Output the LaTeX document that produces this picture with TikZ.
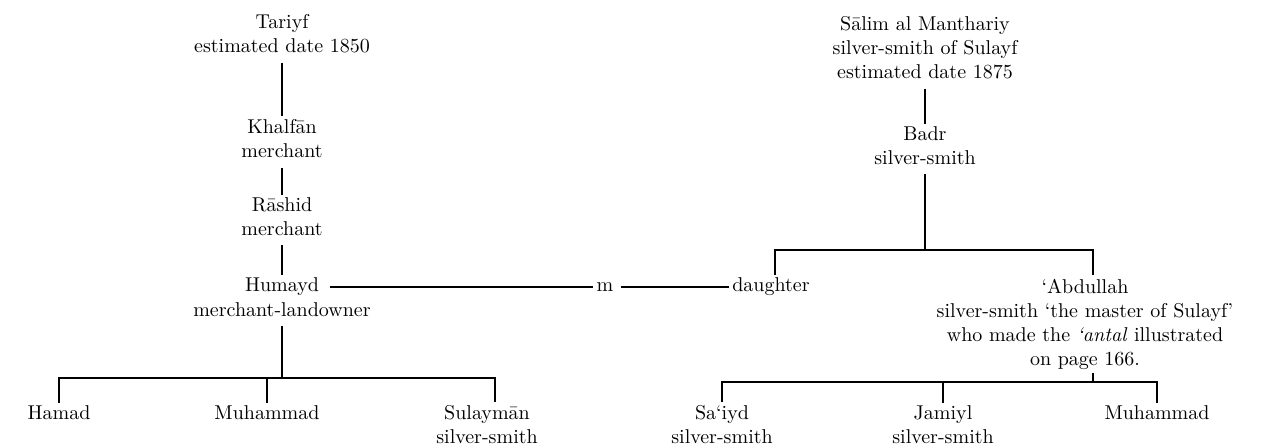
\documentclass[tikz,border=0pt]{standalone}
\usepackage{tikz}
\usetikzlibrary{positioning}

\tikzset{
  person/.style={align=center, inner sep=1.5pt, font=\fontsize{10}{12}\selectfont},
  kin/.style={line width=0.6pt},
  descent/.style={kin, shorten <=3pt},
}

\begin{document}
\begin{tikzpicture}[x=0.5pt, y=-0.5pt]
  \useasboundingbox (0,0) rectangle (1263,448);

  % --- Tariyf line ---
  \node[person] (tariyf) at (282,34) {Tariyf\\estimated date 1850};
  \node[person] (khalfan) at (282,139) {Khalf\={a}n\\merchant};
  \node[person] (rashid) at (282,217) {R\={a}shid\\merchant};
  \node[person] (humayd) at (282,287) {Humayd};
  \node[person] (humaydjob) at (282,310) {merchant-landowner};

  \draw[descent] (tariyf.south) -- (khalfan.north);
  \draw[descent] (khalfan.south) -- (rashid.north);
  \draw[descent] (rashid.south) -- (humayd.north);

  % --- Humayd's sons ---
  \node[person] (hamad) at (59,413) {Hamad};
  \node[person] (muhammada) at (267,413) {Muhammad};
  \node[person] (sulayman) at (487,425) {Sulaym\={a}n\\silver-smith};
  \coordinate (hbar) at (282,378);

  \draw[descent] (humaydjob.south) -- (hbar);
  \draw[kin] (hamad.north) |- (hbar) -| ([xshift=4pt]sulayman.north);
  \draw[kin] (muhammada.north) -- (muhammada.north |- hbar);

  % --- marriage ---
  \node[person] (wed) at (605,287) {m};
  \node[person] (daughter) at (771,287) {daughter};
  \draw[kin, shorten <=4pt] (humayd) -- (wed);
  \draw[kin, shorten <=2pt] (wed) -- (daughter);

  % --- Salim line ---
  \node[person] (salim) at (925,48) {S\={a}lim al Manthariy\\silver-smith of Sulayf\\estimated date 1875};
  \node[person] (badr) at (925,146) {Badr\\silver-smith};
  \node[person, align=center] (abdullah) at (1085,324)
    {‘Abdullah\\silver-smith ‘the master of Sulayf’\\who made the \textit{‘antal} illustrated\\on page 166.};
  \coordinate (bbar) at (925,250);

  \draw[descent] (salim.south) -- (badr.north);
  \draw[descent] (badr.south) -- (bbar);
  \draw[kin] ([xshift=2pt]daughter.north) |- (bbar) -| ([xshift=4pt]abdullah.north);

  % --- Abdullah's sons ---
  \node[person] (saiyd) at (722,425) {Sa‘iyd\\silver-smith};
  \node[person] (jamiyl) at (943,425) {Jamiyl\\silver-smith};
  \node[person] (muhammadb) at (1157,413) {Muhammad};
  \coordinate (abar) at (1093,382);

  \draw[kin] ([xshift=4pt]abdullah.south) -- (abar);
  \draw[kin] (saiyd.north) |- (abar) -| (muhammadb.north);
  \draw[kin] (jamiyl.north) -- (jamiyl.north |- abar);
\end{tikzpicture}
\end{document}
